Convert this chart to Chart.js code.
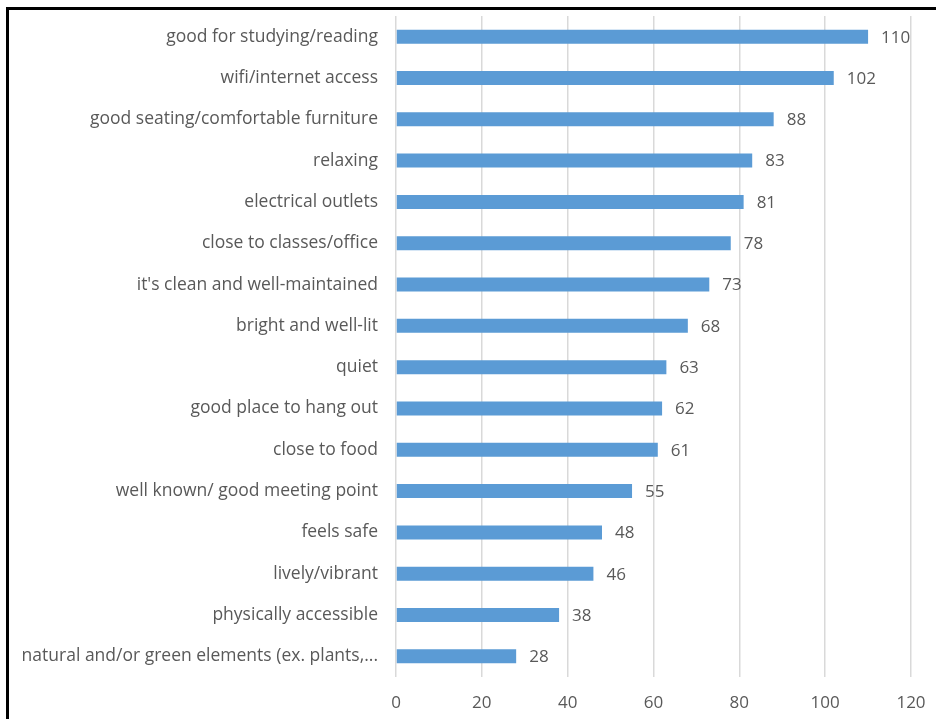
<!DOCTYPE html>
<html lang="en">
<head>
<meta charset="UTF-8">
<title>Space features</title>
<script src="https://cdn.jsdelivr.net/npm/chart.js"></script>
<style>
    html, body { margin: 0; padding: 0; background: #ffffff; }
    .frame {
        position: absolute;
        left: 6px;
        top: 7px;
        width: 930px;
        height: 712px;
        border-left: 3px solid #000;
        border-top: 3px solid #000;
        box-sizing: border-box;
    }
    .chart-box {
        position: absolute;
        left: 0;
        top: 0;
        width: 936px;
        height: 719px;
    }
</style>
</head>
<body>
<div class="frame"></div>
<div class="chart-box">
    <canvas id="barChart"></canvas>
</div>
<script>
// --- data ---
const categories = [
    'good for studying/reading',
    'wifi/internet access',
    'good seating/comfortable furniture',
    'relaxing',
    'electrical outlets',
    'close to classes/office',
    "it's clean and well-maintained",
    'bright and well-lit',
    'quiet',
    'good place to hang out',
    'close to food',
    'well known/ good meeting point',
    'feels safe',
    'lively/vibrant',
    'physically accessible',
    'natural and/or green elements (ex. plants,...'
];
const counts = [110, 102, 88, 83, 81, 78, 73, 68, 63, 62, 61, 55, 48, 46, 38, 28];
const xTicks = [0, 20, 40, 60, 80, 100, 120];

const textGrey = '#595959';
const fontFamily = "'Open Sans', sans-serif";

// draws the value to the right of each bar
const valueLabels = {
    id: 'valueLabels',
    afterDatasetsDraw(chart) {
        const ctx = chart.ctx;
        const meta = chart.getDatasetMeta(0);
        ctx.save();
        ctx.fillStyle = textGrey;
        ctx.font = '17px ' + fontFamily;
        ctx.textAlign = 'left';
        ctx.textBaseline = 'middle';
        meta.data.forEach((bar, i) => {
            ctx.fillText(counts[i], bar.x + 13, bar.y + 1);
        });
        ctx.restore();
    }
};

const ctx = document.getElementById('barChart').getContext('2d');
new Chart(ctx, {
    type: 'bar',
    data: {
        labels: categories,
        datasets: [{
            data: counts,
            backgroundColor: '#5B9BD5',
            borderWidth: 0,
            categoryPercentage: 1,
            barPercentage: 0.34
        }]
    },
    options: {
        indexAxis: 'y',
        responsive: true,
        maintainAspectRatio: false,
        animation: false,
        layout: { padding: { top: 16, right: 25, left: 0, bottom: 0 } },
        plugins: {
            legend: { display: false },
            tooltip: { enabled: false }
        },
        scales: {
            x: {
                min: 0,
                max: 120,
                afterBuildTicks(scale) {
                    scale.ticks = xTicks.map(v => ({ value: v }));
                },
                afterFit(scale) {
                    scale.height = 42;
                    scale.paddingRight = 0;
                },
                grid: { color: '#d9d9d9', drawTicks: false, lineWidth: 1.5 },
                border: { display: false },
                ticks: {
                    color: textGrey,
                    padding: 16,
                    font: { size: 17, family: fontFamily }
                }
            },
            y: {
                afterFit(scale) {
                    scale.width = 396;
                    scale.paddingTop = 0;
                    scale.paddingBottom = 0;
                },
                grid: { display: false },
                border: { display: false },
                ticks: {
                    color: textGrey,
                    padding: 10,
                    autoSkip: false,
                    font: { size: 17.5, family: fontFamily }
                }
            }
        }
    },
    plugins: [valueLabels]
});
</script>
</body>
</html>
